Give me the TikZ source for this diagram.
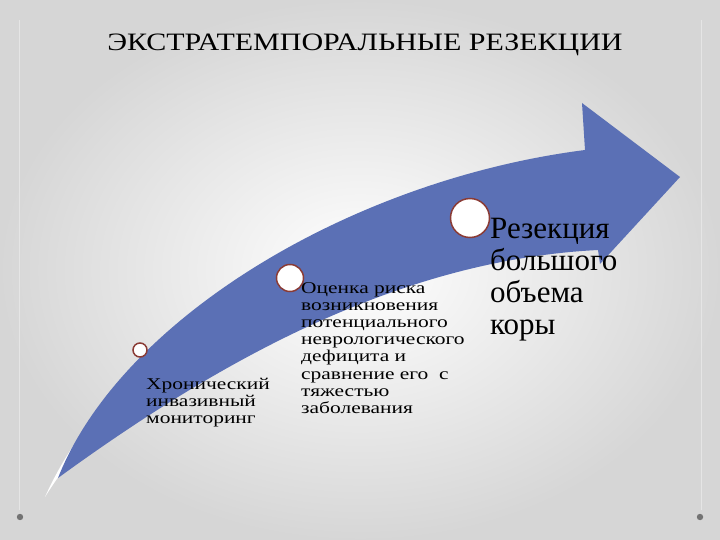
\documentclass[tikz,border=0pt]{standalone}
\usepackage{fontspec}
\setmainfont{Liberation Serif}
\newfontfamily\wide[FakeStretch=1.3]{Liberation Serif}
\newfontfamily\wideT[FakeStretch=1.2]{Liberation Serif}
\definecolor{arr}{HTML}{5B70B5}
\definecolor{ring}{HTML}{8A3B35}
\begin{document}
\begin{tikzpicture}[x=1pt,y=-1pt,
  circ/.style={circle,draw=ring,line width=1.5pt,fill=white,inner sep=0pt},
  txt/.style={anchor=north west,align=left,inner sep=0pt,font=\wide\fontsize{16.5}{17.2}\selectfont}]
\useasboundingbox (0,0) rectangle (720,540);
\shade[inner color=white,outer color=black!16] (0,0) rectangle (720,540);
\draw[black!10,line width=1pt] (19,20) -- (19,510) (701,20) -- (701,510);
\fill[black!55] (20,517) circle (3.2);
\fill[black!55] (700,517) circle (3.2);
\node[font=\wideT\fontsize{25}{28}\selectfont] (title) at (365,45) {ЭКСТРАТЕМПОРАЛЬНЫЕ РЕЗЕКЦИИ};
\fill[white] (45,497) .. controls (120,330) and (340,200) .. (585,152) -- (585,175) .. controls (340,225) and (130,360) .. (45,497);
\fill[arr] (58,478) .. controls (120,320) and (350,180) .. (585,150) -- (582,103) -- (680,177)
  -- (600,264) -- (598,250) .. controls (400,260) and (220,360) .. (58,478) -- cycle;
\node[circ,minimum size=14pt] (c1) at (140,350) {};
\node[circ,minimum size=27pt] (c2) at (290,278) {};
\node[circ,minimum size=39pt] (c3) at (470,218) {};
\node[txt] (t1) at (146,378) {Хронический\\инвазивный\\мониторинг};
\node[txt] (t2) at (301,282) {Оценка риска\\возникновения\\потенциального\\неврологического\\дефицита и\\сравнение его\ \ с\\тяжестью\\заболевания};
\node[txt,font=\fontsize{31}{32}\selectfont] (t3) at (490,218) {Резекция\\большого\\объема\\коры};
\end{tikzpicture}
\end{document}
